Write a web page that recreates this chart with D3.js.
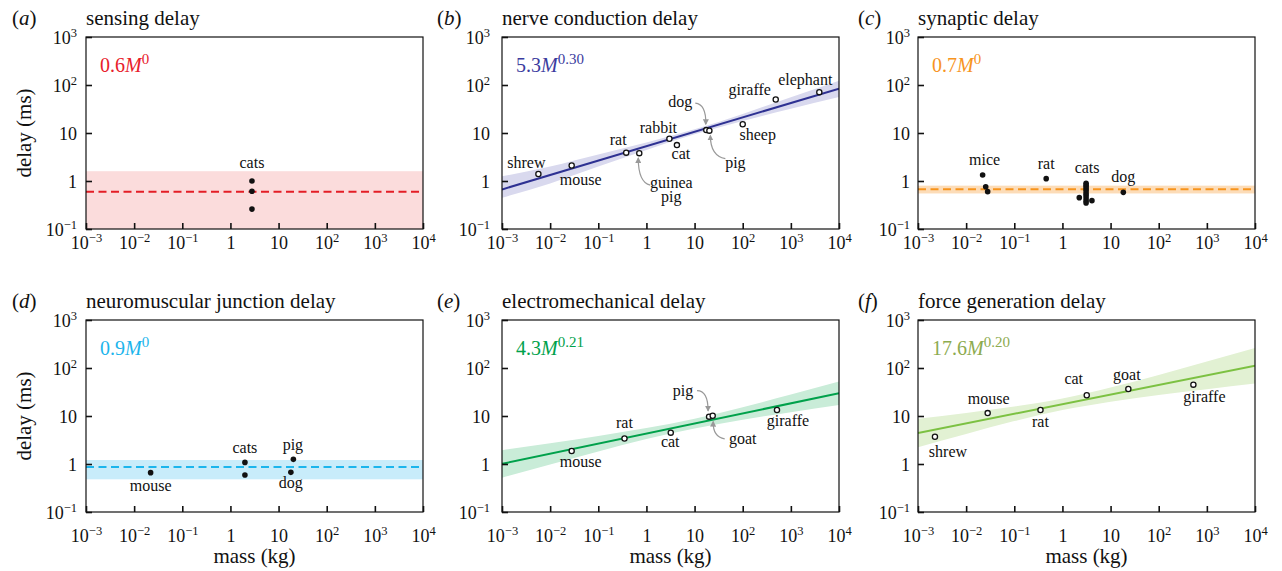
<!DOCTYPE html>
<html>
<head>
<meta charset="utf-8">
<script src="https://cdn.jsdelivr.net/npm/d3@7/dist/d3.min.js"></script>
<style>
	body { margin: 0; background: #fff; }
</style>
</head>
<body>
<svg id="chart" width="1282" height="571"></svg>
<script>
// axis ticks
var massTicks = [1e-3, 1e-2, 1e-1, 1, 10, 100, 1e3, 1e4];
var massTickLabels = [['10', '\u22123'], ['10', '\u22122'], ['10', '\u22121'], ['1', ''], ['10', ''], ['10', '2'], ['10', '3'], ['10', '4']];
var delayTicks = [1e-1, 1, 10, 100, 1e3];
var delayTickLabels = [['10', '\u22121'], ['1', ''], ['10', ''], ['10', '2'], ['10', '3']];

// (a) sensing delay
var sensingNames = ['cats', '', ''];
var sensingMass = [2.8, 2.8, 2.8];
var sensingDelay = [1.0, 0.61, 0.26];

// (b) nerve conduction delay
var nerveNames = ['shrew', 'mouse', 'rat', 'guinea pig', 'rabbit', 'cat', 'dog', 'pig', 'sheep', 'giraffe', 'elephant'];
var nerveMass = [0.0057, 0.028, 0.38, 0.71, 3.0, 4.3, 17.5, 20.3, 100, 485, 3900];
var nerveDelay = [1.4, 2.1, 3.9, 3.8, 7.6, 5.6, 11.5, 11.2, 15.2, 50, 71];

// (c) synaptic delay
var synapticMass = [0.022, 0.0255, 0.028, 0.46, 2.24, 3.1, 3.1, 3.1, 3.1, 3.1, 3.1, 3.1, 3.1, 3.1, 3.1, 4.1, 18.4];
var synapticDelay = [1.33, 0.76, 0.6, 1.12, 0.45, 0.9, 0.82, 0.75, 0.68, 0.62, 0.55, 0.5, 0.44, 0.39, 0.35, 0.39, 0.58];

// (d) neuromuscular junction delay
var nmjMass = [0.022, 2.0, 2.0, 20.3, 18];
var nmjDelay = [0.66, 1.08, 0.59, 1.25, 0.67];

// (e) electromechanical delay
var emdNames = ['mouse', 'rat', 'cat', 'pig', 'goat', 'giraffe'];
var emdMass = [0.028, 0.35, 3.2, 20, 23.8, 515];
var emdDelay = [1.87, 3.4, 4.5, 9.7, 10.1, 13.3];

// (f) force generation delay
var forceNames = ['shrew', 'mouse', 'rat', 'cat', 'goat', 'giraffe'];
var forceMass = [0.00225, 0.028, 0.35, 3.2, 23.4, 525];
var forceDelay = [3.7, 11.5, 13.3, 27, 36.5, 45];

// fits: coefficient, exponent
var fitCoef = [0.6, 5.3, 0.67, 0.87, 4.3, 17.6];
var fitExp = [0, 0.30, 0, 0, 0.21, 0.20];
var fitText = [['0.6', '0'], ['5.3', '0.30'], ['0.7', '0'], ['0.9', '0'], ['4.3', '0.21'], ['17.6', '0.20']];
// flat bands [lo, hi]
var flatBand = [[0.05, 1.6], null, [0.55, 0.8], [0.48, 1.21], null, null];
// curved bands
var bandMass = [1e-3, 1e-2, 1e-1, 1, 10, 100, 1e3, 1e4];
var nerveBandLo = [0.45, 0.89, 2.0, 4.44, 9.4, 17.8, 31.9, 56];
var nerveBandHi = [1.25, 2.0, 3.55, 6.33, 11.9, 25.0, 55.6, 122];
var emdBandLo = [0.52, 0.98, 1.83, 3.3, 5.5, 8.4, 12.0, 16.9];
var emdBandHi = [1.94, 2.72, 3.84, 5.6, 8.8, 15.3, 28.0, 52.4];
var forceBandLo = [2.24, 4.24, 7.83, 13.35, 19.9, 27.3, 36.1, 47.4];
var forceBandHi = [8.74, 11.6, 15.8, 23.2, 39.1, 71.7, 136, 260];

var titles = ['sensing delay', 'nerve conduction delay', 'synaptic delay', 'neuromuscular junction delay', 'electromechanical delay', 'force generation delay'];
var letters = ['a', 'b', 'c', 'd', 'e', 'f'];

// colours
var lineColors = ['#e41e26', '#2e3192', '#f7941d', '#1cb5ec', '#00a14b', '#7cc142'];
var bandColors = ['#fbdcdc', '#d9d9ee', '#fcdcb8', '#c8ecfa', '#c9ecd8', '#e2f1d3'];
var textColors = ['#e8202a', '#3b3b9e', '#f7941d', '#1cb5ec', '#00a14b', '#8dab4f'];

// layout
var serif = '"Liberation Serif", "Times New Roman", serif';
var colLeft = [86, 502, 918], rowTop = [37, 320];
var plotW = 337, plotH = 192;
var xLabelBase = [19.5, 30];
var yLabelPad = [9, 12, 8];

// labels: point index, dx, dy (px)
var labelPos = [
	[{ i: 0, t: 'cats', dx: 0, dy: -13 }],
	[{ i: 0, dx: -12, dy: -6 }, { i: 1, dx: 9, dy: 19 }, { i: 2, dx: -8, dy: -8 }, { i: 3, t: ['guinea', 'pig'], dx: 32, dy: 35 },
	 { i: 4, dx: -11, dy: -6 }, { i: 5, dx: 4, dy: 14 }, { i: 6, dx: -26, dy: -23 }, { i: 7, dx: 26, dy: 37 },
	 { i: 8, dx: 15, dy: 16 }, { i: 9, dx: -26, dy: -4 }, { i: 10, dx: -14, dy: -7 }],
	[{ i: 0, t: 'mice', dx: 2, dy: -10 }, { i: 3, t: 'rat', dx: 0, dy: -10 }, { i: 5, t: 'cats', dx: 1, dy: -10 }, { i: 16, t: 'dog', dx: 0, dy: -10.5 }],
	[{ i: 0, t: 'mouse', dx: 0, dy: 18 }, { i: 1, t: 'cats', dx: 0, dy: -9 }, { i: 3, t: 'pig', dx: -0.5, dy: -9 }, { i: 4, t: 'dog', dx: 0, dy: 16 }],
	[{ i: 0, dx: 9, dy: 16 }, { i: 1, dx: 0, dy: -10 }, { i: 2, dx: -0.5, dy: 14.5 }, { i: 3, dx: -26, dy: -21 }, { i: 4, dx: 30, dy: 28 }, { i: 5, dx: 11, dy: 16 }],
	[{ i: 0, dx: 13, dy: 20 }, { i: 1, dx: 1, dy: -9 }, { i: 2, dx: 0, dy: 17 }, { i: 3, dx: -13, dy: -11 }, { i: 4, dx: -1.5, dy: -9 }, { i: 5, dx: 11, dy: 17 }]
];
// curved arrows: point index, start, control, end offsets from the point
var arrows = [
	[], [
		{ i: 6, s: [-11, -27], c: [0, -26], e: [-0.5, -6] },
		{ i: 7, s: [16, 28], c: [1, 25], e: [1, 5] },
		{ i: 3, s: [11, 32], c: [-1, 29], e: [-1, 5] }
	], [], [], [
		{ i: 3, s: [-12, -26], c: [-1, -26], e: [-1, -6] },
		{ i: 4, s: [12, 23], c: [0, 21], e: [0.5, 6] }
	], []
];

var panelMass = [sensingMass, nerveMass, synapticMass, nmjMass, emdMass, forceMass];
var panelDelay = [sensingDelay, nerveDelay, synapticDelay, nmjDelay, emdDelay, forceDelay];
var panelNames = [sensingNames, nerveNames, null, null, emdNames, forceNames];
var panelBand = [null, [nerveBandLo, nerveBandHi], null, null, [emdBandLo, emdBandHi], [forceBandLo, forceBandHi]];
var openMarks = [false, true, false, false, true, true];

var svg = d3.select('#chart');
var defs = svg.append('defs');
defs.append('marker').attr('id', 'arrowhead').attr('viewBox', '0 0 10 10').attr('refX', 8).attr('refY', 5)
	.attr('markerWidth', 5).attr('markerHeight', 5).attr('orient', 'auto-start-reverse')
	.append('path').attr('d', 'M0,0 L10,5 L0,10 z').attr('fill', '#999');
defs.append('clipPath').attr('id', 'plotclip').append('rect').attr('width', plotW).attr('height', plotH);

var x = d3.scaleLog().domain([1e-3, 1e4]).range([0, plotW]);
var y = d3.scaleLog().domain([1e-1, 1e3]).range([plotH, 0]);

function powerText(sel, lbl) {
	sel.text('');
	sel.append('tspan').text(lbl[0]);
	if (lbl[1]) sel.append('tspan').attr('dy', -7).attr('font-size', 12.5).text(lbl[1]);
}

letters.forEach(function (letter, k) {
	var col = k % 3, row = Math.floor(k / 3);
	var g = svg.append('g').attr('transform', 'translate(' + colLeft[col] + ',' + rowTop[row] + ')');
	var plot = g.append('g').attr('clip-path', 'url(#plotclip)');

	// band
	if (flatBand[k]) {
		plot.append('rect').attr('x', 0).attr('width', plotW)
			.attr('y', y(flatBand[k][1])).attr('height', y(flatBand[k][0]) - y(flatBand[k][1]))
			.attr('fill', bandColors[k]);
	} else {
		var lo = panelBand[k][0], hi = panelBand[k][1];
		var area = d3.area().curve(d3.curveMonotoneX)
			.x(function (d, i) { return x(bandMass[i]); })
			.y0(function (d, i) { return y(lo[i]); })
			.y1(function (d, i) { return y(hi[i]); });
		plot.append('path').datum(bandMass).attr('d', area).attr('fill', bandColors[k]);
	}

	// fit line
	var ends = x.domain();
	var line = d3.line().x(function (d) { return x(d); }).y(function (d) { return y(fitCoef[k] * Math.pow(d, fitExp[k])); });
	plot.append('path').datum(ends).attr('d', line).attr('fill', 'none')
		.attr('stroke', lineColors[k]).attr('stroke-width', 2)
		.attr('stroke-dasharray', fitExp[k] === 0 ? '8,4.5' : null);

	// axes
	var xa = g.append('g').attr('transform', 'translate(0,' + plotH + ')')
		.call(d3.axisBottom(x).tickValues(massTicks).tickSizeInner(-6).tickSizeOuter(0));
	xa.select('.domain').remove();
	xa.selectAll('.tick line').attr('stroke', '#111').attr('stroke-width', 1.6);
	xa.selectAll('.tick text').attr('y', xLabelBase[row]).attr('dy', 0).attr('font-size', 18)
		.attr('fill', '#111')
		.each(function (d, i) { powerText(d3.select(this), massTickLabels[i]); });

	var ya = g.append('g').call(d3.axisLeft(y).tickValues(delayTicks).tickSizeInner(-6).tickSizeOuter(0));
	ya.select('.domain').remove();
	ya.selectAll('.tick line').attr('stroke', '#111').attr('stroke-width', 1.6);
	ya.selectAll('.tick text').attr('x', -yLabelPad[col]).attr('dy', '0.35em').attr('font-size', 18)
		.attr('fill', '#111')
		.each(function (d, i) { powerText(d3.select(this), delayTickLabels[i]); });

	g.append('rect').attr('width', plotW).attr('height', plotH).attr('fill', 'none').attr('stroke', '#111').attr('stroke-width', 1.2);

	// points
	var mass = panelMass[k], delay = panelDelay[k];
	g.selectAll('circle.pt').data(mass).enter().append('circle').attr('class', 'pt')
		.attr('cx', function (d) { return x(d); })
		.attr('cy', function (d, i) { return y(delay[i]); })
		.attr('r', openMarks[k] ? 2.6 : 2.8)
		.attr('fill', openMarks[k] ? '#fff' : '#111')
		.attr('stroke', openMarks[k] ? '#111' : 'none')
		.attr('stroke-width', 1.3);

	// arrows
	arrows[k].forEach(function (a) {
		var px = x(mass[a.i]), py = y(delay[a.i]);
		g.append('path')
			.attr('d', 'M' + (px + a.s[0]) + ',' + (py + a.s[1]) + ' Q' + (px + a.c[0]) + ',' + (py + a.c[1]) + ' ' + (px + a.e[0]) + ',' + (py + a.e[1]))
			.attr('fill', 'none').attr('stroke', '#999').attr('stroke-width', 1.2).attr('marker-end', 'url(#arrowhead)');
	});

	// point labels
	labelPos[k].forEach(function (l) {
		var txt = l.t || panelNames[k][l.i];
		var lines = txt instanceof Array ? txt : [txt];
		var t = g.append('text').attr('text-anchor', 'middle').attr('font-size', 16).attr('fill', '#111')
			.attr('x', x(mass[l.i]) + l.dx).attr('y', y(delay[l.i]) + l.dy);
		lines.forEach(function (s, j) {
			t.append('tspan').attr('x', x(mass[l.i]) + l.dx).attr('dy', j === 0 ? 0 : 13.5).text(s);
		});
	});

	// fit formula
	var f = g.append('text').attr('x', 14).attr('y', 35).attr('font-size', 20).attr('fill', textColors[k]);
	f.append('tspan').text(fitText[k][0]);
	f.append('tspan').attr('font-style', 'italic').text('M');
	f.append('tspan').attr('font-size', 15).attr('dy', -8).text(fitText[k][1]);

	// title
	var tl = svg.append('text').attr('x', colLeft[col] - 74).attr('y', rowTop[row] - 12).attr('font-size', 21).attr('fill', '#111');
	tl.append('tspan').text('(');
	tl.append('tspan').attr('font-style', 'italic').text(letter);
	tl.append('tspan').text(')');
	if (col === 1) tl.attr('x', colLeft[col] - 65);
	if (col === 2) tl.attr('x', colLeft[col] - 60);
	svg.append('text').attr('x', colLeft[col]).attr('y', rowTop[row] - 12).attr('font-size', 21).attr('fill', '#111').text(titles[k]);

	if (col === 0) {
		svg.append('text').attr('transform', 'translate(' + 31 + ',' + (rowTop[row] + plotH / 2) + ') rotate(-90)')
			.attr('text-anchor', 'middle').attr('font-size', 21).attr('fill', '#111').text('delay (ms)');
	}
	if (row === 1) {
		svg.append('text').attr('x', colLeft[col] + plotW / 2).attr('y', 563).attr('text-anchor', 'middle')
			.attr('font-size', 21).attr('fill', '#111').text('mass (kg)');
	}
});

// the serif face has to sit on each text as an inline style
svg.selectAll('text').style('font-family', serif);
</script>
</body>
</html>
